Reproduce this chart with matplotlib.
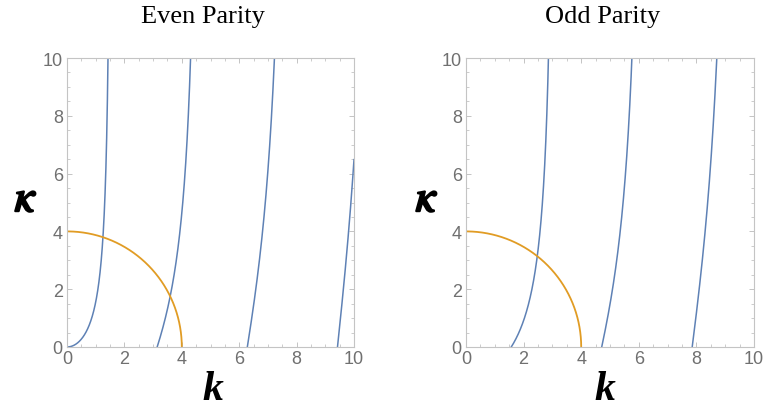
import numpy as np
import matplotlib
matplotlib.use("Agg")
import matplotlib.pyplot as plt
from matplotlib.ticker import MultipleLocator

# Data: square-well transcendental curves and the circle k^2 + kappa^2 = R^2
radius = 4.0
k_max = 10.0
kappa_max = 10.0
titles = ["Even Parity", "Odd Parity"]
tick_values = [0, 2, 4, 6, 8, 10]

blue = "#5E81B5"
orange = "#E19C24"
gray_frame = "#C4C4C4"
gray_text = "#707070"

fig = plt.figure(figsize=(7.63, 4.14), dpi=100)

ax_pos = [
    [67 / 763, 1 - 348 / 414, 287 / 763, 289 / 414],
    [466 / 763, 1 - 348 / 414, 288 / 763, 289 / 414],
]


def even_branches():
    out = []
    n = 0
    while n * np.pi < k_max:
        k = np.linspace(n * np.pi, min(n * np.pi + np.pi / 2 - 1e-4, k_max), 2000)
        out.append((k, k * np.tan(k)))
        n += 1
    return out


def odd_branches():
    out = []
    n = 0
    while (n + 0.5) * np.pi < k_max:
        k = np.linspace((n + 0.5) * np.pi, min((n + 1) * np.pi - 1e-4, k_max), 2000)
        out.append((k, -k / np.tan(k)))
        n += 1
    return out


branches = [even_branches(), odd_branches()]
title_x = [203, 603]
kappa_x = [26, 427]
k_x = [213, 605]

theta = np.linspace(0, np.pi / 2, 400)
for i in range(2):
    ax = fig.add_axes(ax_pos[i])
    for k, kap in branches[i]:
        m = kap <= kappa_max * 1.05
        ax.plot(k[m], kap[m], color=blue, lw=1.1)
    ax.plot(radius * np.cos(theta), radius * np.sin(theta), color=orange, lw=1.3)
    ax.set_xlim(0, k_max)
    ax.set_ylim(0, kappa_max)
    ax.set_xticks(tick_values)
    ax.set_yticks(tick_values)
    ax.xaxis.set_minor_locator(MultipleLocator(0.5))
    ax.yaxis.set_minor_locator(MultipleLocator(0.5))
    for s in ax.spines.values():
        s.set_color(gray_frame)
        s.set_linewidth(0.8)
    ax.tick_params(which="both", direction="in", top=True, right=True,
                   color=gray_frame, labelcolor=gray_text, labelsize=13)
    ax.tick_params(axis="x", pad=2)
    ax.tick_params(axis="y", pad=3)
    ax.tick_params(which="major", length=3.5, width=0.7)
    ax.tick_params(which="minor", length=2, width=0.6)
    for lab in ax.get_xticklabels() + ax.get_yticklabels():
        lab.set_family("Liberation Sans")
    fig.text(title_x[i] / 763, 1 - 17 / 414, titles[i], ha="center", va="center",
             fontsize=19, family="Liberation Serif")
    t = fig.text(kappa_x[i] / 763, 1 - 200 / 414, r"$\kappa$",
                 ha="center", va="center", fontsize=32, math_fontfamily="stix")
    t.set_path_effects([])
    fig.text(k_x[i] / 763, 1 - 390 / 414, "k", ha="center", va="center",
             fontsize=30, family="Liberation Serif", style="italic", weight="bold")

import matplotlib.patheffects as pe
for t in fig.texts:
    if t.get_text() == r"$\kappa$":
        t.set_path_effects([pe.withStroke(linewidth=1.6, foreground="black")])

fig.savefig("out.png", dpi=100)
